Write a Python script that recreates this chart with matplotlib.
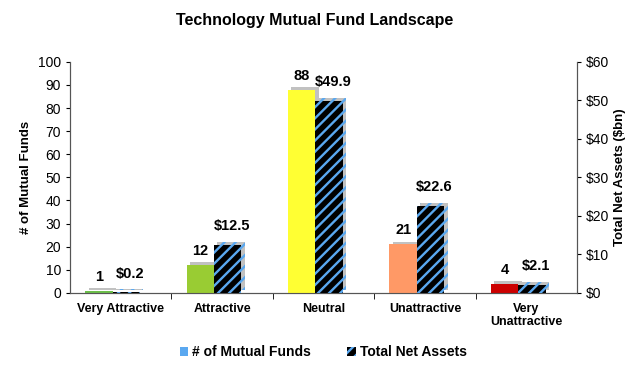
import numpy as np
import matplotlib
matplotlib.use("Agg")
import matplotlib.pyplot as plt
import matplotlib.patheffects as pe
from matplotlib.patches import Patch

plt.rcParams["font.family"] = ["Liberation Sans", "DejaVu Sans"]
plt.rcParams["hatch.linewidth"] = 1.7

categories = ["Very Attractive", "Attractive", "Neutral", "Unattractive", "Very\nUnattractive"]
fund_counts = [1, 12, 88, 21, 4]
net_assets = [0.2, 12.5, 49.9, 22.6, 2.1]
bar_colors = ["#6CC04A", "#99CC33", "#FFFF33", "#FF9966", "#CC0000"]
count_labels = ["1", "12", "88", "21", "4"]
asset_labels = ["$0.2", "$12.5", "$49.9", "$22.6", "$2.1"]

fig = plt.figure(figsize=(6.3, 3.68), dpi=100)
ax = fig.add_axes([0.111, 0.204, 0.805, 0.628])
ax2 = ax.twinx()

x = np.arange(len(categories))
w = 0.27
off = -0.08
shadow = [pe.SimplePatchShadow(offset=(2.5, 2), shadow_rgbFace="#999999", alpha=0.6), pe.Normal()]

b1 = ax.bar(x + off - w / 2, fund_counts, w, color=bar_colors, linewidth=0, zorder=3)
b2 = ax2.bar(x + off + w / 2, net_assets, w, color="black", edgecolor="#5AA8F0",
             hatch="///", linewidth=0, zorder=3)
for b in list(b1) + list(b2):
    b.set_path_effects(shadow)

for xi, v, t in zip(x, fund_counts, count_labels):
    ax.text(xi + off - w / 2, v + 3, t, ha="center", va="bottom", fontsize=10.5, fontweight="bold")
for xi, v, t in zip(x, net_assets, asset_labels):
    ax2.text(xi + off + w / 2 + 0.04, v + 3, t, ha="center", va="bottom", fontsize=10.5, fontweight="bold")

ax.set_xlim(-0.5, len(categories) - 0.5)
ax.set_ylim(0, 100)
ax.set_yticks(np.arange(0, 101, 10))
ax2.set_ylim(0, 60)
ax2.set_yticks(np.arange(0, 61, 10))
ax2.set_yticklabels(["$%d" % v for v in range(0, 61, 10)])

ax.set_xticks(x)
ax.set_xticklabels(categories, fontsize=9, fontweight="bold")
ax.set_xticks(np.arange(0.5, len(categories) - 1, 1), minor=True)
ax.tick_params(axis="x", which="major", length=0, pad=7)
ax.tick_params(axis="x", which="minor", length=4, direction="out")
ax.tick_params(axis="y", labelsize=10, length=3)
ax2.tick_params(axis="y", labelsize=10, length=3)

for a in (ax, ax2):
    a.spines["top"].set_visible(False)
    for s in ("left", "right", "bottom"):
        a.spines[s].set_color("#555555")

ax.set_ylabel("# of Mutual Funds", fontsize=9.5, fontweight="bold", labelpad=4)
ax2.set_ylabel("Total Net Assets ($bn)", fontsize=9.5, fontweight="bold", labelpad=3)
fig.suptitle("Technology Mutual Fund Landscape", fontsize=11.5, fontweight="bold", y=0.965)

handles = [Patch(facecolor="#5AA8F0", linewidth=0),
           Patch(facecolor="black", edgecolor="#5AA8F0", hatch="///", linewidth=0)]
fig.legend(handles, ["# of Mutual Funds", "Total Net Assets"], loc="center",
           bbox_to_anchor=(0.513, 0.043), ncol=2, frameon=False,
           prop={"weight": "bold", "size": 10}, handlelength=0.6, handleheight=0.6,
           columnspacing=2.6, handletextpad=0.3)

fig.savefig("out.png", dpi=100)
